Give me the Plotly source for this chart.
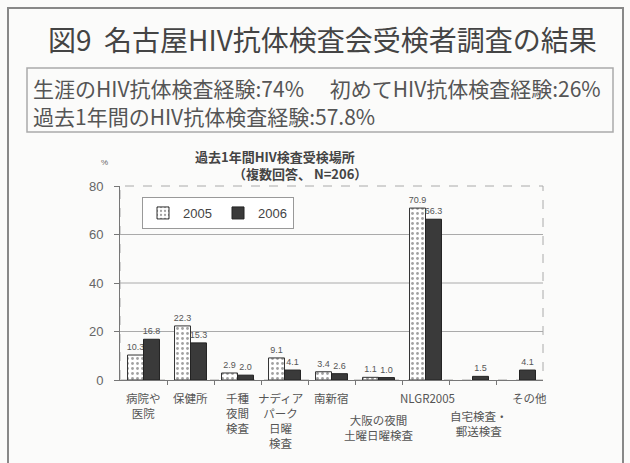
import plotly.graph_objects as go

# ---------------- data ----------------
categories = [
    "病院や<br>医院",
    "保健所",
    "千種<br>夜間<br>検査",
    "ナディア<br>パーク<br>日曜<br>検査",
    "南新宿",
    "大阪の夜間<br>土曜日曜検査",
    "NLGR2005",
    "自宅検査・<br>郵送検査",
    "その他",
]
values_2005 = [10.3, 22.3, 2.9, 9.1, 3.4, 1.1, 70.9, None, None]
values_2006 = [16.8, 15.3, 2.0, 4.1, 2.6, 1.0, 66.3, 1.5, 4.1]
series_names = ["2005", "2006"]
y_ticks = [0, 20, 40, 60, 80]
grid_vals = [20, 40, 60]

main_title = "図9\u00a0\u00a0名古屋HIV抗体検査会受検者調査の結果"
summary_line1 = "生涯のHIV抗体検査経験:74%\u3000\u00a0初めてHIV抗体検査経験:26%"
summary_line2 = "過去1年間のHIV抗体検査経験:57.8%"
chart_title = "過去1年間HIV検査受検場所"
chart_subtitle = "（複数回答、 N=206）"

# label style offsets (pixels) – styling only
label_dy = [8, 8, 8, 8, 8, 30, 8, 26, 8]
label_dx = [0, 0, 0, -4, 0, 0, 2, 6, 10]

# ---------------- layout helpers ----------------
W, H = 630, 463
L, R, T, B = 120, 87, 186, 83
PW, PH = W - L - R, H - T - B


def px(x):
    return (x - L) / PW


def py(y):
    return (H - B - y) / PH


JP = "Noto Sans CJK JP"
LAT = "Liberation Sans"
xs = list(range(len(categories)))


def fmt(vals):
    return ["" if v is None else f"{v:.1f}" for v in vals]


fig = go.Figure()
fig.add_trace(go.Bar(
    x=xs, y=values_2005, name=series_names[0],
    marker=dict(color="white",
                pattern=dict(shape=".", fgcolor="#444", bgcolor="white", size=5, solidity=0.25),
                line=dict(color="#333", width=1)),
    text=fmt(values_2005), textposition="outside", constraintext="none", textangle=0,
    textfont=dict(family=LAT, size=9, color="#555"), cliponaxis=False,
))
fig.add_trace(go.Bar(
    x=xs, y=values_2006, name=series_names[1],
    marker=dict(color="#3a3a3a", line=dict(color="#222", width=1)),
    text=fmt(values_2006), textposition="outside", constraintext="none", textangle=0,
    textfont=dict(family=LAT, size=9, color="#555"), cliponaxis=False,
))

shapes = []
for g in grid_vals:
    shapes.append(dict(type="line", xref="paper", yref="y", x0=0, x1=1, y0=g, y1=g,
                       line=dict(color="#aaa", width=1), layer="between"))
shapes.append(dict(type="rect", xref="paper", yref="paper", x0=0, x1=1, y0=0, y1=1,
                   line=dict(color="#aaa", width=1, dash="dash"), layer="between"))
shapes.append(dict(type="rect", xref="paper", yref="paper", x0=px(8), x1=px(623), y0=py(490), y1=py(8),
                   line=dict(color="#888", width=2), layer="below"))
shapes.append(dict(type="rect", xref="paper", yref="paper", x0=px(27), x1=px(613), y0=py(132), y1=py(68),
                   line=dict(color="#aaa", width=1.5), layer="below"))

annotations = [
    dict(text=main_title, x=px(322), y=py(39), xref="paper", yref="paper", xanchor="center", yanchor="middle",
         showarrow=False, font=dict(family=JP, size=28, color="#444")),
    dict(text=summary_line1, x=px(31), y=py(88), xref="paper", yref="paper", xanchor="left", yanchor="middle",
         showarrow=False, font=dict(family=JP, size=21, color="#555")),
    dict(text=summary_line2, x=px(31), y=py(116), xref="paper", yref="paper", xanchor="left", yanchor="middle",
         showarrow=False, font=dict(family=JP, size=21, color="#555")),
    dict(text="<b>" + chart_title + "</b>", x=px(275), y=py(156), xref="paper", yref="paper",
         xanchor="center", yanchor="middle", showarrow=False, font=dict(family=JP, size=13, color="#444")),
    dict(text="<b>" + chart_subtitle + "</b>", x=px(300), y=py(173), xref="paper", yref="paper",
         xanchor="center", yanchor="middle", showarrow=False, font=dict(family=JP, size=13, color="#444")),
    dict(text="%", x=px(104), y=py(162), xref="paper", yref="paper", xanchor="center", yanchor="middle",
         showarrow=False, font=dict(family=LAT, size=8, color="#666")),
]
for i, lab in enumerate(categories):
    annotations.append(dict(text=lab, x=xs[i], y=0, xref="x", yref="y", xanchor="center", yanchor="top",
                            yshift=-label_dy[i], xshift=label_dx[i], showarrow=False,
                            font=dict(family=JP, size=11.5, color="#555")))

fig.update_layout(
    width=W, height=H,
    margin=dict(l=L, r=R, t=T, b=B, pad=0),
    paper_bgcolor="#fbfbfa", plot_bgcolor="#fbfbfa",
    barmode="group", bargap=0.32, bargroupgap=0,
    showlegend=True,
    legend=dict(orientation="h", x=px(142), y=py(197), xanchor="left", yanchor="top",
                bgcolor="white", bordercolor="#999", borderwidth=1,
                font=dict(family=LAT, size=13, color="#444"), itemwidth=30,
                entrywidth=30, entrywidthmode="pixels", tracegroupgap=0),
    xaxis=dict(range=[-0.5, len(categories) - 0.5], tickvals=[i + 0.5 for i in xs[:-1]],
               ticks="outside", ticklen=4, tickcolor="#777", showticklabels=False,
               showline=True, linecolor="#777", linewidth=1, showgrid=False, zeroline=False),
    yaxis=dict(range=[0, 80], tickvals=y_ticks, ticks="outside", ticklen=5, tickcolor="#777",
               showline=True, linecolor="#777", linewidth=1, showgrid=False, zeroline=False,
               tickfont=dict(family=LAT, size=13, color="#666"), ticklabelstandoff=8),
    shapes=shapes,
    annotations=annotations,
)

fig.write_html("out.html")
